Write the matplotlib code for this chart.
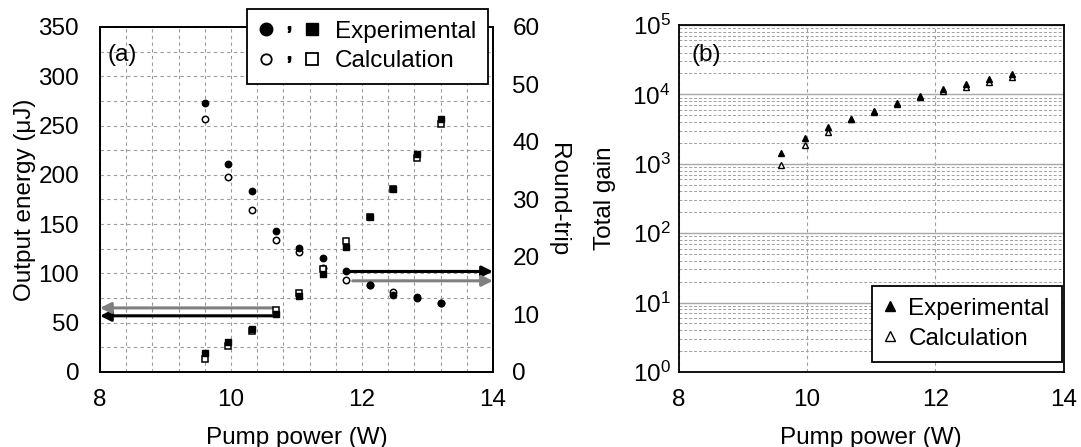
import numpy as np
import matplotlib
matplotlib.use("Agg")
import matplotlib.pyplot as plt
from matplotlib.ticker import MultipleLocator, LogLocator, NullFormatter, FuncFormatter
from matplotlib.lines import Line2D
from matplotlib.legend_handler import HandlerTuple

plt.rcParams["font.family"] = ["Liberation Sans", "DejaVu Sans"]
plt.rcParams["font.size"] = 17.5

# pump power (W)
pump = [9.6, 9.96, 10.32, 10.68, 11.04, 11.4, 11.76, 12.12, 12.48, 12.84, 13.2]

# output energy (uJ), left axis of (a)
energy_exp = [273, 211, 184, 143, 126, 116, 102, 88, 78, 76, 70]
energy_calc = [257, 198, 164, 134, 122, 105, 93, 88, 81, 75, 70]

# round-trip count, right axis of (a)
trip_exp = [3.3, 5.3, 7.5, 10.0, 13.3, 17.1, 21.7, 27.0, 31.9, 37.9, 44.0]
trip_calc = [2.3, 4.5, 7.2, 10.7, 13.8, 17.9, 22.7, 27.0, 31.9, 37.3, 43.2]

# total gain, (b)
gain_exp = [1410, 2320, 3420, 4410, 5750, 7420, 9460, 11800, 13900, 16400, 19400]
gain_calc = [960, 1860, 2890, 4400, 5600, 7200, 9200, 11200, 12900, 15200, 17600]

# arrows in (a): (tail x, tip x, y in left-axis units, colour)
arrows = [(10.72, 8.0, 57, "black"), (10.64, 8.0, 65, "#808080"),
          (11.78, 14.0, 102, "black"), (11.86, 14.0, 92.5, "#808080")]

fig = plt.figure(figsize=(10.81, 4.47), dpi=100)
ax = fig.add_axes([0.0925, 0.1678, 0.3635, 0.7718])
ax2 = ax.twinx()
axb = fig.add_axes([0.628, 0.1678, 0.356, 0.7763])

grid_kw = dict(color="#9a9a9a", linestyle=(0, (3, 3)), linewidth=0.8)

# ---- (a) ----
ax.set_xlim(8, 14)
ax.set_ylim(0, 350)
ax2.set_ylim(0, 60)
ax.xaxis.set_major_locator(MultipleLocator(2))
ax.xaxis.set_minor_locator(MultipleLocator(0.4))
ax.yaxis.set_major_locator(MultipleLocator(50))
ax.yaxis.set_minor_locator(MultipleLocator(25))
ax2.yaxis.set_major_locator(MultipleLocator(10))
ax.grid(True, which="both", **grid_kw)
ax.set_axisbelow(True)

for x0, x1, y, c in arrows:
    ax.annotate("", xy=(x1, y), xytext=(x0, y),
                arrowprops=dict(arrowstyle="-|>", color=c, lw=2.2,
                                mutation_scale=16, shrinkA=0, shrinkB=0))

ax.plot(pump, energy_calc, "o", mfc="white", mec="black", mew=1.1, ms=4.6, zorder=3)
ax.plot(pump, energy_exp, "o", color="black", ms=4.6, zorder=4)
ax2.plot(pump, trip_calc, "s", mfc="white", mec="black", mew=1.1, ms=4.8, zorder=3)
ax2.plot(pump, trip_exp, "s", color="black", ms=4.8, zorder=4)

ax.set_xlabel("Pump power (W)", va="center")
ax.xaxis.set_label_coords(0.5, -0.191)
ax.set_ylabel("Output energy (\u03bcJ)", va="center")
ax.yaxis.set_label_coords(-0.19, 0.5)
ax2.set_ylabel("Round-trip", rotation=270, va="center")
ax2.yaxis.set_label_coords(1.166, 0.5)
ax.text(0.02, 0.92, "(a)", transform=ax.transAxes, va="center", ha="left")

ax.tick_params(axis="x", which="both", length=0, pad=12)
ax.tick_params(axis="y", which="both", length=0, pad=15)
ax2.tick_params(which="both", length=0, pad=14)
for a in (ax, ax2):
    for s in a.spines.values():
        s.set_linewidth(1.3)

h_ce = Line2D([], [], ls="none", marker="o", color="black", ms=9)
h_se = Line2D([], [], ls="none", marker="s", color="black", ms=8.5)
h_cc = Line2D([], [], ls="none", marker="o", mfc="white", mec="black", mew=1.3, ms=7.5)
h_sc = Line2D([], [], ls="none", marker="s", mfc="white", mec="black", mew=1.3, ms=8)
h_cm = Line2D([], [], ls="none", marker="$\\mathregular{,}$", color="black", ms=4)
leg = ax2.legend([(h_ce, h_cm, h_se), (h_cc, h_cm, h_sc)], ["Experimental", "Calculation"],
                 handler_map={tuple: HandlerTuple(ndivide=None, pad=0.3)},
                 loc="upper right", bbox_to_anchor=(0.987, 1.052), borderaxespad=0,
                 fancybox=False, edgecolor="black", framealpha=1,
                 handlelength=2.55, handletextpad=0.6, borderpad=0.48, labelspacing=0.3)
leg.get_frame().set_linewidth(1.3)
leg.set_zorder(10)

# ---- (b) ----
axb.set_yscale("log")
axb.set_xlim(8, 14)
axb.set_ylim(1, 1e5)
axb.xaxis.set_major_locator(MultipleLocator(2))
axb.yaxis.set_major_locator(LogLocator(base=10, numticks=10))
axb.yaxis.set_minor_locator(LogLocator(base=10, subs=np.arange(2, 10), numticks=20))
axb.yaxis.set_minor_formatter(NullFormatter())
axb.yaxis.set_major_formatter(FuncFormatter(
    lambda v, p: "$\\mathregular{10^{%d}}$" % int(round(np.log10(v)))))
axb.xaxis.grid(True, which="major", **grid_kw)
axb.yaxis.grid(True, which="minor", color="#a0a0a0", linestyle=(0, (3, 2)), linewidth=0.7)
axb.yaxis.grid(True, which="major", color="#a8a8a8", linestyle="-", linewidth=1.0)
axb.set_axisbelow(True)
axb.tick_params(axis="x", which="both", length=0, pad=12)
axb.tick_params(axis="y", which="both", length=0, pad=6)
for s in axb.spines.values():
    s.set_linewidth(1.3)

axb.plot(pump, gain_calc, "^", mfc="white", mec="black", mew=1.0, ms=5, label="Calculation", zorder=3)
axb.plot(pump, gain_exp, "^", color="black", ms=5, label="Experimental", zorder=4)
axb.set_xlabel("Pump power (W)", va="center")
axb.xaxis.set_label_coords(0.5, -0.19)
axb.set_ylabel("Total gain", va="center")
axb.yaxis.set_label_coords(-0.192, 0.5)
axb.text(0.034, 0.913, "(b)", transform=axb.transAxes, va="center", ha="left")

hb, lb = axb.get_legend_handles_labels()
legb = axb.legend(hb[::-1], lb[::-1], loc="lower right", bbox_to_anchor=(0.995, 0.029),
                  borderaxespad=0, fancybox=False, edgecolor="black", framealpha=1,
                  markerscale=1.5, handlelength=0.5, handletextpad=0.5,
                  borderpad=0.5, labelspacing=0.33)
legb.get_frame().set_linewidth(1.3)

fig.savefig("out.png", dpi=100)
